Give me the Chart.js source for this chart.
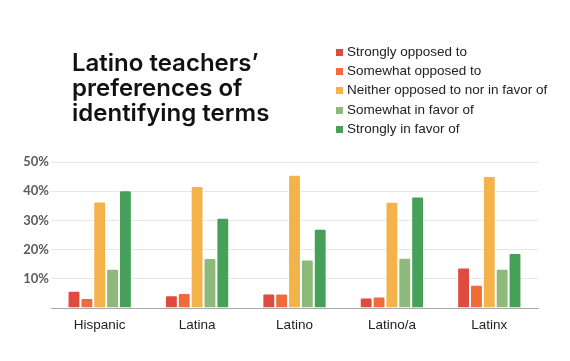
<!DOCTYPE html>
<html>
<head>
<meta charset="utf-8">
<script src="https://cdn.jsdelivr.net/npm/chart.js@4/dist/chart.umd.min.js"></script>
<style>
    html, body { margin: 0; padding: 0; background: #fff; }
    #wrap { position: relative; width: 570px; height: 361px; }
    #title {
        position: absolute; left: 72px; top: 50px; margin: 0;
        font-family: Inter, "Open Sans", sans-serif; font-weight: 600;
        font-size: 24px; line-height: 25px; color: #111; letter-spacing: 0px;
    }
    #legend {
        position: absolute; left: 336px; top: 42px; margin: 0; padding: 0; list-style: none;
        font-family: "Liberation Sans", Arial, sans-serif; font-size: 13.5px; color: #222;
    }
    #legend li { height: 19.2px; line-height: 19.2px; white-space: nowrap; }
    #legend span.box {
        display: inline-block; width: 7px; height: 7px; margin-right: 4px; vertical-align: 0px;
    }
    canvas { position: absolute; left: 0; top: 0; }
</style>
</head>
<body>
<div id="wrap">
    <canvas id="chart" width="570" height="361"></canvas>
    <h1 id="title">Latino teachers’<br>preferences of<br>identifying terms</h1>
    <ul id="legend"></ul>
</div>
<script>
// categories and series (percent)
const terms = ['Hispanic', 'Latina', 'Latino', 'Latino/a', 'Latinx'];
const stronglyOpposed = [5.9, 4.4, 5.0, 3.6, 13.9];
const somewhatOpposed = [3.4, 5.1, 5.0, 3.9, 8.0];
const neither = [36.5, 41.8, 45.6, 36.4, 45.2];
const somewhatFavor = [13.4, 17.1, 16.6, 17.2, 13.4];
const stronglyFavor = [40.3, 30.9, 27.1, 38.2, 18.8];
const yTicks = [10, 20, 30, 40, 50];

const seriesNames = ['Strongly opposed to', 'Somewhat opposed to', 'Neither opposed to nor in favor of', 'Somewhat in favor of', 'Strongly in favor of'];
const seriesColors = ['#e04b3f', '#ee6c38', '#f4b24a', '#8dba7b', '#47a05a'];
const seriesData = [stronglyOpposed, somewhatOpposed, neither, somewhatFavor, stronglyFavor];

const datasets = seriesNames.map((name, i) => ({
    label: name,
    data: seriesData[i],
    backgroundColor: seriesColors[i],
    borderColor: '#ffffff',
    borderWidth: 1,
    borderRadius: 2,
    categoryPercentage: 0.66,
    barPercentage: 1
}));

const ctx = document.getElementById('chart').getContext('2d');
const chart = new Chart(ctx, {
    type: 'bar',
    data: { labels: terms, datasets: datasets },
    options: {
        responsive: false,
        animation: false,
        layout: { padding: { top: 162, left: 0, right: 32, bottom: 0 } },
        plugins: { legend: { display: false }, tooltip: { enabled: false } },
        scales: {
            x: {
                grid: { display: false },
                border: { color: '#a8a8a8', width: 1 },
                ticks: {
                    color: '#222',
                    padding: 1,
                    font: { family: '"Liberation Sans", Arial, sans-serif', size: 13.5 }
                },
                afterFit: (scale) => { scale.height = 53; }
            },
            y: {
                min: 0,
                max: 50,
                afterBuildTicks: (scale) => { scale.ticks = [0].concat(yTicks).map(v => ({ value: v })); },
                grid: {
                    color: (c) => c.tick && c.tick.value === 0 ? '#a8a8a8' : '#e6e6e6',
                    lineWidth: 1,
                    drawTicks: false
                },
                border: { display: false },
                ticks: {
                    color: '#5c5c5c',
                    padding: 2,
                    font: { family: 'Lato, sans-serif', size: 13, weight: 'bold' },
                    callback: (v) => v === 0 ? '' : v + '%'
                },
                afterFit: (scale) => { scale.width = 51; }
            }
        }
    }
});

// legend built from the chart's datasets
const legend = document.getElementById('legend');
chart.data.datasets.forEach(ds => {
    const li = document.createElement('li');
    li.innerHTML = `<span class="box" style="background:${ds.backgroundColor}"></span>${ds.label}`;
    legend.appendChild(li);
});
</script>
</body>
</html>
